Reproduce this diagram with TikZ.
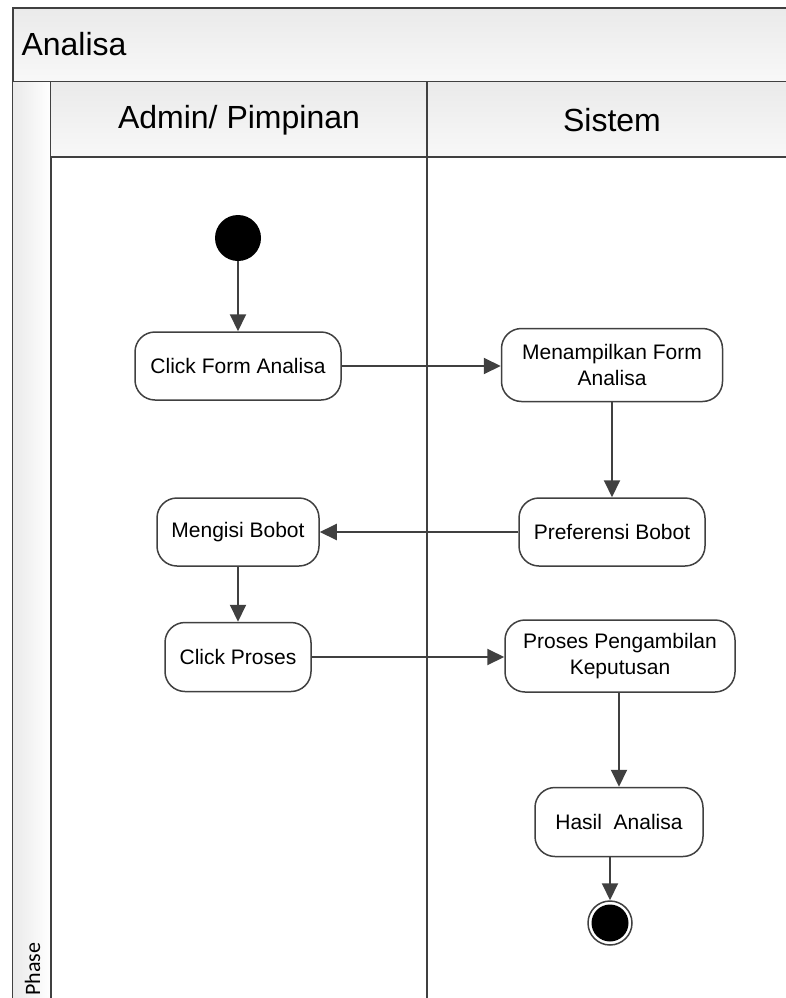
\documentclass[tikz,border=0pt]{standalone}
\usepackage{fontspec}
\setmainfont{Liberation Sans}
\newfontfamily\phasefont{Carlito}
\usetikzlibrary{arrows.meta}
\definecolor{linec}{HTML}{404040}
\definecolor{bandtop}{HTML}{EAEAEA}
\definecolor{bandbot}{HTML}{F8F8F8}
\tikzset{
  act/.style={draw=linec, line width=1.5pt, rounded corners=20pt, align=center,
    font=\fontsize{21}{26}\selectfont, inner sep=0pt, fill=white},
  flow/.style={draw=linec, line width=2pt, -{Triangle[length=17pt,width=16pt]}},
  frame/.style={draw=linec, line width=1.6pt},
  band/.style={top color=bandtop, bottom color=bandbot},
  headtext/.style={font=\fontsize{32}{38}\selectfont},
}
\begin{document}
\begin{tikzpicture}[x=1pt,y=-1pt]
\useasboundingbox (0,0) rectangle (786,998);
\clip (0,0) rectangle (786,998);
% title band
\path[band] (13,8) rectangle (800,82);
\draw[frame] (13,1010) -- (13,8) -- (800,8);
\draw[frame] (13,82) -- (800,82);
\node[anchor=west, headtext] (title) at (18,44) {Analisa};
% phase strip
\path[left color=bandtop, right color=white] (13,82) rectangle (51,1010);
\draw[frame] (51,82) -- (51,1010);
\node[rotate=90, anchor=base west, font=\phasefont\fontsize{22}{26}\selectfont, inner sep=0pt] (phase) at (40,996) {Phase};
% lane headers
\path[band] (51,82) rectangle (800,157);
\draw[frame] (51,157) -- (800,157);
\draw[frame] (427,82) -- (427,1010);
\node[headtext] (laneA) at (239,120) {Admin/ Pimpinan};
\node[headtext] (laneB) at (612,120) {Sistem};
% nodes
\node[circle, fill=black, minimum size=46pt, inner sep=0pt] (start) at (238,238) {};
\node[act, minimum width=206pt, minimum height=68pt] (cfa) at (238,366) {Click Form Analisa};
\node[act, minimum width=221pt, minimum height=73pt] (mfa) at (612,365) {Menampilkan Form\\Analisa};
\node[act, minimum width=186pt, minimum height=68pt] (pb) at (612,532) {Preferensi Bobot};
\node[act, minimum width=162pt, minimum height=68pt] (mb) at (238,532) {Mengisi Bobot};
\node[act, minimum width=146pt, minimum height=69pt] (cp) at (238,657) {Click Proses};
\node[act, minimum width=230pt, minimum height=72pt] (ppk) at (620,656) {Proses Pengambilan\\Keputusan};
\node[act, minimum width=168pt, minimum height=69pt] (ha) at (619,822) {Hasil\ \ Analisa};
\node[circle, draw=linec, line width=1.5pt, fill=white, minimum size=44pt, inner sep=0pt] (end) at (610,923) {};
\node[circle, fill=black, minimum size=37pt, inner sep=0pt] (endin) at (end.center) {};
% connectors
\draw[flow] (start) -- (cfa);
\draw[flow] (cfa.east) -- (cfa.east -| mfa.west);
\draw[flow] (mfa) -- (pb);
\draw[flow] (pb) -- (mb);
\draw[flow] (mb) -- (cp);
\draw[flow] (cp) -- (cp -| ppk.west);
\draw[flow] (ppk.south -| ha.north) -- (ha);
\draw[flow] (ha.south -| end.north) -- (end);
\end{tikzpicture}
\end{document}
